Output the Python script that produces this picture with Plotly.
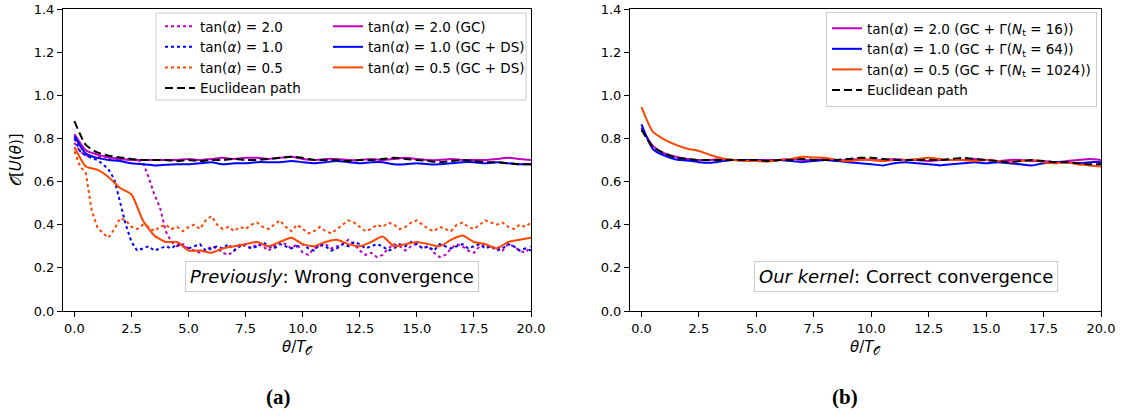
import numpy as np
import plotly.graph_objects as go

# ---------------- data ----------------
x_dot = np.arange(0, 20.001, 0.25)      # grid of the dotted (unsmoothed) curves
x_line = np.arange(0, 20.001, 0.5)      # grid of the smooth curves

# panel (a) dotted curves
a_dot_20 = [0.78, 0.74, 0.72, 0.715, 0.71, 0.72, 0.705, 0.71,
            0.70, 0.705, 0.70, 0.70, 0.69, 0.62, 0.54, 0.48,
            0.37, 0.32, 0.30, 0.31, 0.29, 0.28, 0.27, 0.28,
            0.30, 0.29, 0.27, 0.26, 0.28, 0.31, 0.30, 0.29,
            0.31, 0.30, 0.28, 0.30, 0.32, 0.31, 0.29, 0.31,
            0.27, 0.26, 0.29, 0.30, 0.31, 0.29, 0.30, 0.31,
            0.33, 0.31, 0.28, 0.26, 0.27, 0.25, 0.26, 0.29,
            0.31, 0.30, 0.28, 0.30, 0.31, 0.29, 0.30, 0.27,
            0.25, 0.26, 0.29, 0.31, 0.30, 0.28, 0.27, 0.30,
            0.31, 0.29, 0.30, 0.28, 0.31, 0.30, 0.28, 0.27,
            0.30]
a_dot_10 = [0.80, 0.74, 0.72, 0.71, 0.70, 0.68, 0.655, 0.61,
            0.50, 0.40, 0.32, 0.28, 0.29, 0.30, 0.28, 0.29,
            0.30, 0.29, 0.31, 0.30, 0.29, 0.30, 0.31, 0.28,
            0.29, 0.30, 0.29, 0.31, 0.28, 0.30, 0.31, 0.29,
            0.30, 0.32, 0.30, 0.29, 0.31, 0.30, 0.29, 0.30,
            0.31, 0.29, 0.28, 0.31, 0.30, 0.28, 0.29, 0.31,
            0.30, 0.32, 0.31, 0.29, 0.30, 0.31, 0.30, 0.28,
            0.29, 0.31, 0.30, 0.32, 0.31, 0.29, 0.30, 0.28,
            0.31, 0.30, 0.29, 0.30, 0.31, 0.29, 0.30, 0.31,
            0.29, 0.30, 0.28, 0.29, 0.31, 0.30, 0.28, 0.29,
            0.28]
a_dot_05 = [0.74, 0.67, 0.64, 0.47, 0.39, 0.36, 0.34, 0.38,
            0.43, 0.42, 0.39, 0.38, 0.40, 0.39, 0.37, 0.39,
            0.40, 0.38, 0.39, 0.37, 0.39, 0.40, 0.38, 0.42,
            0.44, 0.40, 0.38, 0.39, 0.37, 0.39, 0.38, 0.40,
            0.41, 0.39, 0.38, 0.40, 0.42, 0.39, 0.37, 0.40,
            0.38, 0.36, 0.37, 0.39, 0.37, 0.36, 0.38, 0.40,
            0.42, 0.41, 0.39, 0.37, 0.38, 0.40, 0.39, 0.41,
            0.40, 0.38, 0.39, 0.41, 0.42, 0.40, 0.38, 0.37,
            0.39, 0.38, 0.37, 0.40, 0.41, 0.39, 0.38, 0.40,
            0.42, 0.41, 0.40, 0.41, 0.39, 0.38, 0.40, 0.39,
            0.41]

# panel (a) smooth curves
a_gc_20 = [0.82, 0.745, 0.725, 0.713, 0.705, 0.70, 0.70, 0.70, 0.70, 0.70,
           0.705, 0.70, 0.705, 0.71, 0.705, 0.71, 0.71, 0.705, 0.71, 0.715,
           0.705, 0.70, 0.705, 0.705, 0.70, 0.70, 0.705, 0.70, 0.705, 0.71,
           0.705, 0.70, 0.70, 0.705, 0.70, 0.70, 0.70, 0.705, 0.71, 0.705,
           0.70]
a_ds_10 = [0.81, 0.73, 0.71, 0.70, 0.695, 0.685, 0.68, 0.675, 0.678, 0.68,
           0.68, 0.685, 0.69, 0.68, 0.685, 0.685, 0.69, 0.69, 0.69, 0.695,
           0.69, 0.685, 0.69, 0.695, 0.69, 0.685, 0.69, 0.69, 0.68, 0.68,
           0.685, 0.68, 0.68, 0.685, 0.69, 0.69, 0.685, 0.69, 0.685, 0.68,
           0.68]
a_ds_05 = [0.76, 0.67, 0.655, 0.62, 0.57, 0.54, 0.42, 0.35, 0.32, 0.32,
           0.28, 0.28, 0.27, 0.29, 0.30, 0.31, 0.32, 0.30, 0.32, 0.34,
           0.31, 0.30, 0.32, 0.33, 0.31, 0.30, 0.32, 0.345, 0.30, 0.31,
           0.32, 0.31, 0.30, 0.33, 0.35, 0.32, 0.31, 0.29, 0.32, 0.33,
           0.34]
a_eucl = [0.88, 0.77, 0.735, 0.72, 0.712, 0.705, 0.70, 0.70, 0.70, 0.695,
          0.70, 0.695, 0.70, 0.70, 0.705, 0.70, 0.70, 0.705, 0.71, 0.715,
          0.71, 0.70, 0.70, 0.70, 0.695, 0.70, 0.70, 0.705, 0.71, 0.705,
          0.70, 0.695, 0.69, 0.695, 0.70, 0.695, 0.69, 0.69, 0.685, 0.68,
          0.68]

# panel (b) smooth curves
b_gam_20 = [0.85, 0.765, 0.73, 0.715, 0.705, 0.70, 0.70, 0.705, 0.70, 0.70,
            0.70, 0.70, 0.70, 0.705, 0.70, 0.70, 0.705, 0.70, 0.70, 0.705,
            0.70, 0.70, 0.705, 0.70, 0.70, 0.695, 0.70, 0.70, 0.70, 0.705,
            0.70, 0.695, 0.70, 0.70, 0.695, 0.695, 0.69, 0.695, 0.70, 0.705,
            0.70]
b_gam_10 = [0.865, 0.75, 0.72, 0.702, 0.698, 0.69, 0.687, 0.694, 0.70, 0.70,
            0.70, 0.695, 0.70, 0.695, 0.69, 0.695, 0.70, 0.695, 0.69, 0.685,
            0.68, 0.675, 0.685, 0.69, 0.685, 0.68, 0.675, 0.68, 0.685, 0.69,
            0.685, 0.69, 0.685, 0.68, 0.675, 0.685, 0.69, 0.69, 0.685, 0.69,
            0.69]
b_gam_05 = [0.945, 0.83, 0.795, 0.77, 0.752, 0.742, 0.723, 0.708, 0.70, 0.695,
            0.695, 0.693, 0.70, 0.705, 0.715, 0.712, 0.71, 0.70, 0.695, 0.70,
            0.70, 0.695, 0.70, 0.70, 0.705, 0.71, 0.705, 0.70, 0.70, 0.695,
            0.70, 0.695, 0.69, 0.695, 0.70, 0.69, 0.685, 0.69, 0.68, 0.675,
            0.67]
b_eucl = [0.84, 0.76, 0.73, 0.71, 0.705, 0.70, 0.70, 0.70, 0.70, 0.70,
          0.70, 0.695, 0.70, 0.70, 0.705, 0.70, 0.70, 0.70, 0.705, 0.71,
          0.71, 0.705, 0.70, 0.70, 0.70, 0.70, 0.70, 0.705, 0.71, 0.705,
          0.70, 0.695, 0.69, 0.695, 0.70, 0.695, 0.69, 0.69, 0.685, 0.68,
          0.68]

y_ticks = [0.0, 0.2, 0.4, 0.6, 0.8, 1.0, 1.2, 1.4]
x_ticks = [0.0, 2.5, 5.0, 7.5, 10.0, 12.5, 15.0, 17.5, 20.0]

# ---------------- styles ----------------
MAG, BLU, ORA, BLK = "#bf00bf", "#0000ff", "#ff4500", "#000000"
FONT = "DejaVu Sans"
TA = "tan(<i>α</i>)"

fig = go.Figure()

def add(x, y, name, color, dash, xa, ya, legend, smooth=True):
    fig.add_trace(go.Scatter(
        x=x, y=y, name=name, mode="lines",
        line=dict(color=color, width=2, dash=dash,
                  shape="spline" if smooth else "linear", smoothing=0.6),
        xaxis=xa, yaxis=ya, legend=legend))

# panel (a)
add(x_dot, a_dot_20, f"{TA} = 2.0", MAG, "dot", "x", "y", "legend", False)
add(x_dot, a_dot_10, f"{TA} = 1.0", BLU, "dot", "x", "y", "legend", False)
add(x_dot, a_dot_05, f"{TA} = 0.5", ORA, "dot", "x", "y", "legend", False)
add(x_line, a_gc_20, f"{TA} = 2.0 (GC)", MAG, "solid", "x", "y", "legend2")
add(x_line, a_ds_10, f"{TA} = 1.0 (GC + DS)", BLU, "solid", "x", "y", "legend2")
add(x_line, a_ds_05, f"{TA} = 0.5 (GC + DS)", ORA, "solid", "x", "y", "legend2")
add(x_line, a_eucl, "Euclidean path", BLK, "8px,4px", "x", "y", "legend")

# panel (b)
add(x_line, b_gam_20, f"{TA} = 2.0 (GC + Γ(<i>N</i><sub>t</sub> = 16))", MAG, "solid", "x2", "y2", "legend3")
add(x_line, b_gam_10, f"{TA} = 1.0 (GC + Γ(<i>N</i><sub>t</sub> = 64))", BLU, "solid", "x2", "y2", "legend3")
add(x_line, b_gam_05, f"{TA} = 0.5 (GC + Γ(<i>N</i><sub>t</sub> = 1024))", ORA, "solid", "x2", "y2", "legend3")
add(x_line, b_eucl, "Euclidean path", BLK, "8px,4px", "x2", "y2", "legend3")

W, H = 1123, 419
ML, MR, MT, MB = 63, 22, 9, 108
PW, PH = W - ML - MR, H - MT - MB

def px(xp):
    return (xp - ML) / PW

def py(yp):
    return (H - MB - yp) / PH

axis_common = dict(
    range=[-0.5, 20], tickvals=x_ticks, tickformat=".1f", automargin=False,
    ticklabeloverflow="allow",
    showline=True, linecolor="black", linewidth=1, mirror=True,
    ticks="outside", ticklen=5, tickcolor="black", showgrid=False, zeroline=False,
    tickfont=dict(family=FONT, size=13, color="black"))
yaxis_common = dict(
    range=[0, 1.4], tickvals=y_ticks, tickformat=".1f", automargin=False,
    ticklabeloverflow="allow",
    showline=True, linecolor="black", linewidth=1, mirror=True,
    ticks="outside", ticklen=5, tickcolor="black", showgrid=False, zeroline=False,
    tickfont=dict(family=FONT, size=13, color="black"))

leg_common = dict(xref="paper", yref="paper", xanchor="left", yanchor="top",
                  bgcolor="rgba(0,0,0,0)", borderwidth=0,
                  font=dict(family=FONT, size=13.5, color="black"),
                  tracegroupgap=0)

fig.update_layout(
    width=W, height=H,
    margin=dict(l=ML, r=MR, t=MT, b=MB, autoexpand=False),
    paper_bgcolor="white", plot_bgcolor="white",
    font=dict(family=FONT, size=13, color="black"),
    xaxis=dict(domain=[0, px(531)], anchor="y", **axis_common),
    yaxis=dict(domain=[0, 1], anchor="x", **yaxis_common),
    xaxis2=dict(domain=[px(630), 1], anchor="y2", **axis_common),
    yaxis2=dict(domain=[0, 1], anchor="x2", **yaxis_common),
    legend=dict(x=px(160), y=py(11), **leg_common),
    legend2=dict(x=px(328), y=py(11), **leg_common),
    legend3=dict(x=px(826), y=py(12), xanchor="left", yanchor="top", xref="paper", yref="paper",
                 bgcolor="white", bordercolor="#cccccc", borderwidth=1,
                 font=dict(family=FONT, size=13.5, color="black")),
    showlegend=True,
)

# frame around the two-column legend of panel (a)
fig.add_shape(type="rect", xref="paper", yref="paper",
              x0=px(156), x1=px(526), y0=py(100), y1=py(13),
              line=dict(color="#cccccc", width=1), fillcolor="rgba(255,255,255,0.8)",
              layer="below")

ann_box = dict(bgcolor="white", bordercolor="#cccccc", borderwidth=1, borderpad=4,
               font=dict(family=FONT, size=18, color="black"), showarrow=False,
               xanchor="center", yanchor="middle")
fig.add_annotation(x=11.3, y=0.16, xref="x", yref="y",
                   text="<i>Previously</i>: Wrong convergence", **ann_box)
fig.add_annotation(x=11.5, y=0.16, xref="x2", yref="y2",
                   text="<i>Our kernel</i>: Correct convergence", **ann_box)

# axis titles
title_font = dict(family=FONT, size=15, color="black")
fig.add_annotation(x=px(16), y=0.5, xref="paper", yref="paper", textangle=-90,
                   xanchor="center", yanchor="middle",
                   text="𝒪[<i>U</i>(<i>θ</i>)]", showarrow=False, font=title_font)
for cx in (px(297), px(865)):
    fig.add_annotation(x=cx, y=py(347), xref="paper", yref="paper",
                       xanchor="center", yanchor="middle",
                       text="<i>θ</i>/<i>T</i><sub>𝒪</sub>", showarrow=False, font=title_font)

# panel labels
lab_font = dict(family="Liberation Serif", size=21, color="black")
fig.add_annotation(x=px(278), y=py(397), xref="paper", yref="paper",
                   xanchor="center", yanchor="middle",
                   text="<b>(a)</b>", showarrow=False, font=lab_font)
fig.add_annotation(x=px(845), y=py(397), xref="paper", yref="paper",
                   xanchor="center", yanchor="middle",
                   text="<b>(b)</b>", showarrow=False, font=lab_font)

fig.write_html("out.html",
               config={"displayModeBar": False},
               post_script="document.body.style.margin='0';document.body.style.overflow='hidden';")
